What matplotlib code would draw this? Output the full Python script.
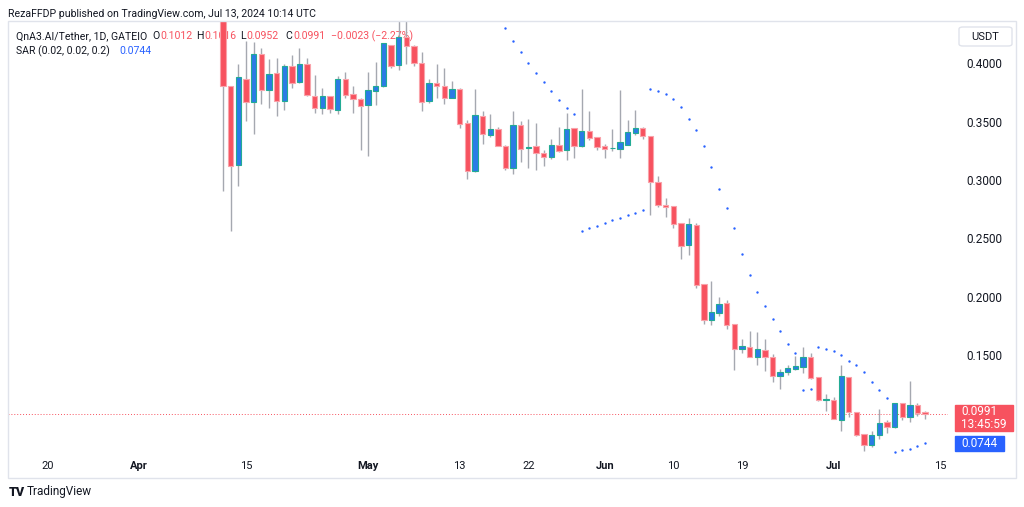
import matplotlib
matplotlib.use("Agg")
import matplotlib.pyplot as plt
import matplotlib.dates as mdates
from matplotlib.patches import Rectangle, FancyBboxPatch
import numpy as np
import pandas as pd

plt.rcParams['font.family'] = ['Roboto', 'DejaVu Sans']

# Velas diarias QnA3.AI/USDT (GATEIO), 12 abr - 13 jul 2024
fechas = pd.date_range("2024-04-12", "2024-07-13", freq="D")

apertura = [0.452, 0.3808, 0.3131, 0.3865, 0.3671, 0.4080, 0.3771, 0.3917, 0.3680, 0.3977,
            0.3837, 0.3994, 0.3722, 0.3614, 0.3717, 0.3602, 0.3865, 0.3734, 0.3694, 0.3643,
            0.3765, 0.3806, 0.4157, 0.3985, 0.4228, 0.4151, 0.4005, 0.3677, 0.3831, 0.3808,
            0.3705, 0.3780, 0.3486, 0.3077, 0.3546, 0.3385, 0.3434, 0.3291, 0.3100, 0.3471,
            0.3274, 0.3291, 0.3234, 0.3197, 0.3297, 0.3254, 0.3443, 0.3291, 0.3423, 0.3368,
            0.3291, 0.3271, 0.3268, 0.3300, 0.3405, 0.3443, 0.3377, 0.2985, 0.2788, 0.2777,
            0.2629, 0.2440, 0.2614, 0.2106, 0.1802, 0.1863, 0.1943, 0.1765, 0.1551, 0.1571,
            0.1486, 0.1543, 0.1480, 0.1320, 0.1354, 0.1382, 0.1400, 0.1480, 0.1309, 0.1114,
            0.1117, 0.0943, 0.1311, 0.1011, 0.0820, 0.0728, 0.0814, 0.0923, 0.0885, 0.1086,
            0.0966, 0.1069, 0.1012]
maximo = [0.470, 0.3808, 0.3991, 0.4191, 0.4185, 0.4134, 0.4037, 0.4043, 0.3990, 0.4069,
          0.4134, 0.4043, 0.3900, 0.3786, 0.3720, 0.3894, 0.3923, 0.3803, 0.3700, 0.3923,
          0.4014, 0.4171, 0.4160, 0.4400, 0.4400, 0.4155, 0.4094, 0.3865, 0.3997, 0.3962,
          0.3848, 0.3785, 0.3511, 0.3780, 0.3591, 0.3565, 0.3451, 0.3300, 0.3591, 0.3505,
          0.3525, 0.3488, 0.3257, 0.3351, 0.3457, 0.3571, 0.3445, 0.3783, 0.3594, 0.3370,
          0.3308, 0.3437, 0.3771, 0.3514, 0.3600, 0.3457, 0.3380, 0.3037, 0.2848, 0.2780,
          0.2634, 0.2671, 0.2629, 0.2108, 0.2131, 0.2000, 0.1971, 0.1767, 0.1637, 0.1708,
          0.1697, 0.1637, 0.1509, 0.1383, 0.1417, 0.1491, 0.1566, 0.1520, 0.1311, 0.1163,
          0.1143, 0.1417, 0.1313, 0.1013, 0.0822, 0.0849, 0.1037, 0.0943, 0.1086, 0.1088,
          0.1280, 0.1091, 0.1016]
minimo = [0.2908, 0.2565, 0.2948, 0.3505, 0.3391, 0.3649, 0.3620, 0.3551, 0.3602, 0.3791,
          0.3834, 0.3720, 0.3574, 0.3568, 0.3574, 0.3568, 0.3705, 0.3571, 0.3257, 0.3208,
          0.3643, 0.3800, 0.3957, 0.3943, 0.3991, 0.3980, 0.3591, 0.3660, 0.3700, 0.3654,
          0.3700, 0.3448, 0.3006, 0.3066, 0.3311, 0.3368, 0.3291, 0.3088, 0.3049, 0.3157,
          0.3105, 0.3086, 0.3123, 0.3177, 0.3243, 0.3171, 0.3191, 0.3285, 0.3343, 0.3257,
          0.3185, 0.3251, 0.3191, 0.3300, 0.3386, 0.3349, 0.2697, 0.2766, 0.2685, 0.2591,
          0.2325, 0.2357, 0.2071, 0.1765, 0.1757, 0.1837, 0.1720, 0.1371, 0.1520, 0.1483,
          0.1411, 0.1365, 0.1268, 0.1206, 0.1326, 0.1370, 0.1348, 0.1297, 0.1108, 0.1023,
          0.0949, 0.0851, 0.0966, 0.0806, 0.0680, 0.0709, 0.0780, 0.0834, 0.0877, 0.0943,
          0.0928, 0.0977, 0.0952]
cierre = [0.3805, 0.3120, 0.3885, 0.3671, 0.4077, 0.3774, 0.3911, 0.3680, 0.3977, 0.3834,
          0.3994, 0.3728, 0.3620, 0.3717, 0.3608, 0.3865, 0.3728, 0.3694, 0.3637, 0.3774,
          0.3803, 0.4171, 0.3977, 0.4228, 0.4148, 0.4000, 0.3671, 0.3831, 0.3803, 0.3705,
          0.3780, 0.3482, 0.3080, 0.3554, 0.3391, 0.3434, 0.3291, 0.3100, 0.3471, 0.3268,
          0.3277, 0.3229, 0.3197, 0.3297, 0.3251, 0.3434, 0.3294, 0.3423, 0.3357, 0.3285,
          0.3263, 0.3274, 0.3325, 0.3411, 0.3443, 0.3377, 0.2980, 0.2785, 0.2771, 0.2623,
          0.2434, 0.2620, 0.2102, 0.1802, 0.1871, 0.1937, 0.1757, 0.1554, 0.1577, 0.1486,
          0.1549, 0.1480, 0.1320, 0.1354, 0.1389, 0.1405, 0.1486, 0.1305, 0.1114, 0.1117,
          0.0949, 0.1317, 0.1009, 0.0817, 0.0728, 0.0814, 0.0920, 0.0885, 0.1086, 0.0966,
          0.1069, 0.1000, 0.0991]

# Parabolic SAR (0.02, 0.02, 0.2); antes del 19 may queda fuera del grafico
sar = [np.nan] * 37 + [
    0.4300, 0.4194, 0.4097, 0.4005, 0.3919, 0.3837, 0.3760, 0.3685, 0.3619, 0.3568,
    0.2560, 0.2586, 0.2605, 0.2634, 0.2654, 0.2677, 0.2700, 0.2720, 0.2743,
    0.3780, 0.3760, 0.3739, 0.3694, 0.3628, 0.3525, 0.3426, 0.3289, 0.3109, 0.2920,
    0.2757, 0.2586, 0.2363, 0.2188, 0.2040, 0.1923, 0.1806, 0.1703, 0.1597, 0.1517,
    0.1197, 0.1211,
    0.1566, 0.1551, 0.1532, 0.1500, 0.1448, 0.1414, 0.1354, 0.1271, 0.1197, 0.1134,
    0.0671, 0.0688, 0.0694, 0.0717, 0.0744]

fechas_eje = ["2024-03-20", "2024-04-01", "2024-04-15", "2024-05-01", "2024-05-13",
              "2024-05-22", "2024-06-01", "2024-06-10", "2024-06-19", "2024-07-01",
              "2024-07-15"]
etiquetas_eje = ["20", "Apr", "15", "May", "13", "22", "Jun", "10", "19", "Jul", "15"]
precios_eje = [0.15, 0.20, 0.25, 0.30, 0.35, 0.40]

ROJO = '#F7525F'
AZUL = '#2B7BE6'
TEAL = '#22AB94'
TEXTO = '#131722'
FS_CAB = 7.6


def fx(px):
    return px / 1024


def fy(py):
    return 1 - py / 507


fig = plt.figure(figsize=(10.24, 5.07), dpi=100)
ax = fig.add_axes([fx(8), fy(454), 940 / 1024, 432 / 507])

x = mdates.date2num(fechas)
o = np.array(apertura)
h = np.array(maximo)
l = np.array(minimo)
c = np.array(cierre)
sube = c >= o
base = np.minimum(o, c)
alto = np.maximum(np.abs(c - o), 0.0006)

ax.vlines(x, l, h, color='#A5A8B0', lw=1, zorder=2)
ax.bar(x[sube], alto[sube], bottom=base[sube], width=0.7, color=AZUL,
       edgecolor=TEAL, lw=0.8, zorder=3)
ax.bar(x[~sube], alto[~sube], bottom=base[~sube], width=0.7, color=ROJO,
       edgecolor='#F9A3AA', lw=0.8, zorder=3)
ax.scatter(x, sar, s=3, color='#2962FF', marker='o', lw=0, zorder=4)

ax.axhline(c[-1], color=ROJO, ls=(0, (1, 2)), lw=0.7, zorder=1)

ax.set_xlim(x[0] - 28.2, x[0] + 95.0)
ax.set_ylim(0.4354 - 432 / 1166.7, 0.4354)

ticks_x = mdates.date2num(pd.to_datetime(fechas_eje))
ax.set_xticks(ticks_x)
ax.set_xticklabels(etiquetas_eje)
for t, e in zip(ax.get_xticklabels(), etiquetas_eje):
    if not e.isdigit():
        t.set_fontweight('bold')
ax.tick_params(axis='x', length=0, pad=5, labelsize=8, colors=TEXTO)

ax.yaxis.tick_right()
ax.set_yticks(precios_eje)
ax.set_yticklabels([f"{p:.4f}" for p in precios_eje])
ax.tick_params(axis='y', length=0, pad=13.5, labelsize=8.5, colors=TEXTO)

for s in ax.spines.values():
    s.set_visible(False)

# textos de la cabecera (detras de las velas)
ax.text(fx(16), fy(36), "QnA3.AI/Tether, 1D, GATEIO", transform=fig.transFigure,
        fontsize=FS_CAB, color=TEXTO, va='center', zorder=1)
partes = [(152, "O", TEXTO), (160, "0.1012", ROJO), (196, "H", TEXTO), (204, "0.1016", ROJO),
          (240, "L", TEXTO), (246, "0.0952", ROJO), (285, "C", TEXTO), (293, "0.0991", ROJO),
          (331, "\u22120.0023 (\u22122.27%)", ROJO)]
for px, s, col in partes:
    ax.text(fx(px), fy(36), s, transform=fig.transFigure, fontsize=FS_CAB, color=col,
            va='center', zorder=1)
ax.text(fx(16), fy(51), "SAR (0.02, 0.02, 0.2)", transform=fig.transFigure,
        fontsize=FS_CAB, color=TEXTO, va='center', zorder=1)
ax.text(fx(119), fy(51), "0.0744", transform=fig.transFigure,
        fontsize=FS_CAB, color='#2962FF', va='center', zorder=1)

fig.text(fx(8), fy(14), "RezaFFDP published on TradingView.com, Jul 13, 2024 10:14 UTC",
         fontsize=FS_CAB, color=TEXTO, va='center')

# marco del grafico
fig.add_artist(Rectangle((fx(8), fy(478)), 1008 / 1024, 457 / 507, transform=fig.transFigure,
                         fill=False, edgecolor='#E0E3EB', lw=1))

# caja USDT
fig.add_artist(FancyBboxPatch((fx(959), fy(46)), 53 / 1024, 19 / 507,
                              boxstyle="round,pad=0,rounding_size=0.004",
                              transform=fig.transFigure, facecolor='white',
                              edgecolor='#E0E3EB', lw=1))
fig.text(fx(985), fy(36.5), "USDT", fontsize=8, color=TEXTO, ha='center', va='center')

# etiquetas de precio actual y SAR
fig.add_artist(Rectangle((fx(955), fy(431)), 58 / 1024, 26 / 507,
                         transform=fig.transFigure, color=ROJO))
fig.text(fx(961), fy(411.5), "0.0991", fontsize=8.5, color='white', va='center')
fig.text(fx(961), fy(424.5), "13:45:59", fontsize=8.5, color='white', va='center')
fig.add_artist(Rectangle((fx(955), fy(451)), 49 / 1024, 15 / 507,
                         transform=fig.transFigure, color='#2962FF'))
fig.text(fx(961), fy(443.5), "0.0744", fontsize=8.5, color='white', va='center')

# pie
fig.text(fx(9), fy(492), "TV", fontsize=9, fontweight='black', color=TEXTO, va='center')
fig.text(fx(27), fy(492), "TradingView", fontsize=8.5, color=TEXTO, va='center',
         fontstretch='condensed')

fig.savefig("out.png", dpi=100)
